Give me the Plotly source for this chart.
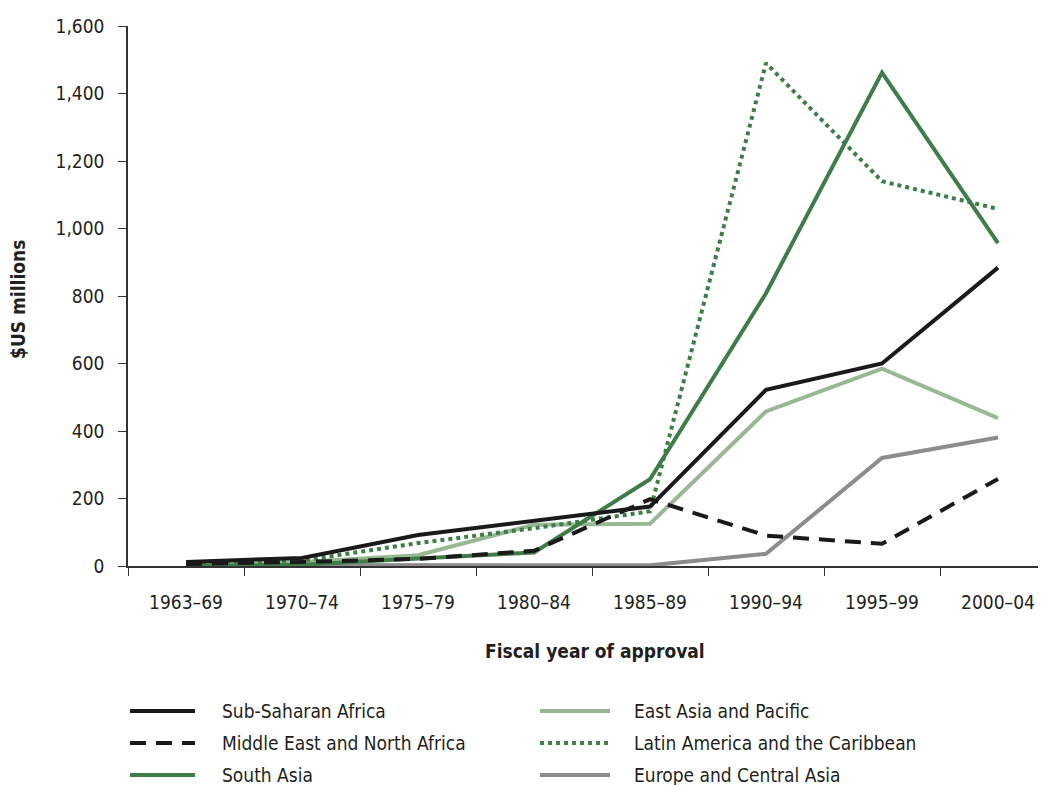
import plotly.graph_objects as go

# periods of approval
periods = ["1963–69", "1970–74", "1975–79", "1980–84", "1985–89", "1990–94", "1995–99", "2000–04"]

# $US millions by region
sub_saharan = [12, 24, 92, 135, 176, 522, 600, 884]
middle_east = [6, 12, 21, 45, 198, 90, 66, 258]
south_asia = [0, 4, 22, 40, 257, 808, 1462, 957]
east_asia = [4, 12, 32, 122, 125, 458, 585, 438]
latin_america = [2, 16, 68, 112, 162, 1490, 1140, 1058]
europe_ca = [3, 3, 2, 2, 2, 36, 320, 381]

FONT = "Liberation Sans Narrow, DejaVu Sans Condensed, Arial Narrow, sans-serif"
INK = "#231f20"

# legend order = row by row, two columns
series = [
    ("Sub-Saharan Africa", sub_saharan, "#1a1a1a", "solid"),
    ("East Asia and Pacific", east_asia, "#97b893", "solid"),
    ("Middle East and North Africa", middle_east, "#1a1a1a", "16px,10px"),
    ("Latin America and the Caribbean", latin_america, "#3e7d4a", "dot"),
    ("South Asia", south_asia, "#3e7d4a", "solid"),
    ("Europe and Central Asia", europe_ca, "#8c8c8c", "solid"),
]
# drawing order (back to front)
draw_order = [5, 1, 4, 3, 2, 0]

fig = go.Figure()
for i in draw_order:
    name, vals, col, dash = series[i]
    fig.add_trace(go.Scatter(x=periods, y=vals, name=name, mode="lines",
                             line=dict(color=col, width=4, dash=dash),
                             showlegend=False))

# page has an 8px body margin, so the figure is 8px smaller and shifted
OFF = 8
W, H = 1046 - OFF, 785 - OFF
ml, mr, mt, mb = 128 - OFF, 0, 26 - OFF, H - (566 - OFF)
pw, ph = W - ml - mr, H - mt - mb


def px(x):
    return (x - OFF - ml) / pw


def py(y):
    return (H - mb - (y - OFF)) / ph


# hand-made legend below the chart
shapes, notes = [], []
col_x = [(130, 195, 220), (540, 610, 632)]
row_y = [711, 743, 775]
for k, (name, vals, col, dash) in enumerate(series):
    x0, x1, xt = col_x[k % 2]
    yy = row_y[k // 2]
    shapes.append(dict(type="line", xref="paper", yref="paper",
                       x0=px(x0), x1=px(x1), y0=py(yy), y1=py(yy),
                       line=dict(color=col, width=4, dash=dash)))
    notes.append(dict(text=name, xref="paper", yref="paper", x=px(xt), y=py(yy),
                      xanchor="left", yanchor="middle", showarrow=False,
                      font=dict(family=FONT, size=19, color=INK)))

# axis titles
notes.append(dict(text="<b>Fiscal year of approval</b>", xref="paper", yref="paper",
                  x=px(595), y=py(651), showarrow=False,
                  xanchor="center", yanchor="middle",
                  font=dict(family=FONT, size=19, color=INK)))
notes.append(dict(text="<b>$US millions</b>", xref="paper", yref="paper",
                  x=px(18), y=py(300), showarrow=False, textangle=-90,
                  xanchor="center", yanchor="middle",
                  font=dict(family=FONT, size=19, color=INK)))

fig.update_layout(
    width=W, height=H,
    margin=dict(l=ml, r=mr, t=mt, b=mb),
    plot_bgcolor="white", paper_bgcolor="white",
    font=dict(family=FONT, size=18, color=INK),
    shapes=shapes, annotations=notes,
)
fig.update_xaxes(type="category", range=[-0.5, -0.5 + pw / 116], tickson="boundaries",
                 ticks="outside", ticklen=8, tickcolor="#333", showline=True,
                 linecolor="#333", linewidth=1.5, showgrid=False, zeroline=False,
                 ticklabelstandoff=18, tickfont=dict(size=19))
fig.update_yaxes(range=[0, 1600], dtick=200, tickformat=",", ticks="outside", ticklen=8,
                 tickcolor="#333", showline=True, linecolor="#333", linewidth=1.5,
                 showgrid=False, zeroline=False, ticklabelstandoff=10,
                 tickfont=dict(size=19))

fig.write_html("out.html")
